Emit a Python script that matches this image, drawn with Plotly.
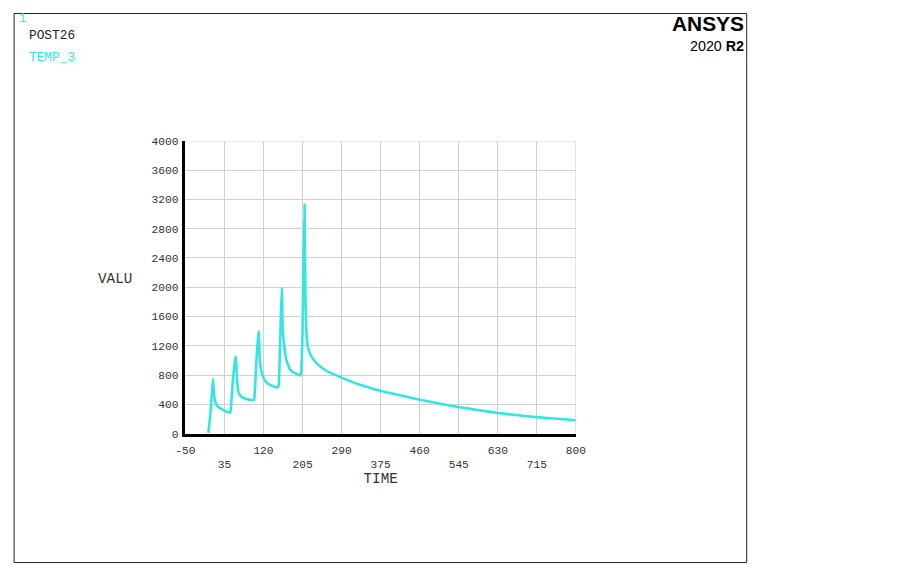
import plotly.graph_objects as go

# TEMP_3 vs TIME
time_s = [0, 3, 6, 8, 10, 12, 15, 19, 25, 32, 40, 46, 48, 50, 53, 56, 58, 60, 62, 66, 71, 77, 85, 93, 98, 100,
          103, 106, 108, 110, 112, 115, 120, 128, 136, 144, 150, 153, 156, 158, 160, 162, 166, 171, 178,
          186, 195, 200, 202, 205, 207, 209.5, 211, 214, 218, 225, 236, 254, 270, 290, 320, 350, 374, 420,
          461, 500, 544, 590, 631, 675, 715, 760, 800]
temp_3 = [10, 180, 400, 560, 750, 560, 440, 380, 350, 325, 300, 292, 290, 420, 700, 900, 1000, 1055, 760, 555,
          510, 487, 470, 460, 456, 470, 800, 1150, 1300, 1397, 1000, 870, 760, 692, 660, 640, 630, 660,
          1200, 1650, 1990, 1400, 1147, 980, 874, 835, 810, 795, 830, 1400, 2300, 3130, 2000, 1330, 1150,
          1050, 960, 870, 820, 765, 690, 630, 585, 520, 464, 415, 364, 320, 283, 252, 226, 203, 183]

x_ticks = [-50, 35, 120, 205, 290, 375, 460, 545, 630, 715, 800]
x_ticktext = ["-50", "<br>35", "120", "<br>205", "290", "<br>375", "460", "<br>545", "630", "<br>715", "800"]
y_ticks = [0, 400, 800, 1200, 1600, 2000, 2400, 2800, 3200, 3600, 4000]

W, H = 900, 577
# mapping of target-picture pixels to page positions (capture adds a small inset)
SX, OX = 0.979, 9.4
SY, OY = 0.980, 5.0


def fx(px):
    return (px - OX) / SX / W


def fy(py):
    return 1 - (py - OY) / SY / H


def fs(size):
    return round(size / SX, 1)


mono = "Liberation Mono, Courier New, monospace"
cyan = "#33E6E0"
grid = "#D0D0D0"
txt = "#333333"

fig = go.Figure()
fig.add_trace(go.Scatter(x=time_s, y=temp_3, mode="lines",
                         line=dict(color=cyan, width=2.6, shape="spline", smoothing=0.3),
                         showlegend=False, hoverinfo="skip"))

fig.update_layout(
    width=W, height=H,
    margin=dict(l=0, r=0, t=0, b=0),
    paper_bgcolor="white", plot_bgcolor="white",
    xaxis=dict(domain=[fx(185), fx(576)], range=[-50, 800],
               tickvals=x_ticks, ticktext=x_ticktext,
               showgrid=True, gridcolor=grid, gridwidth=1,
               showline=True, linecolor="black", linewidth=2.5,
               zeroline=False, ticks="outside", ticklen=4, tickcolor="rgba(0,0,0,0)",
               tickfont=dict(family=mono, size=fs(11), color=txt),
               title=dict(text="TIME", font=dict(family=mono, size=fs(14), color=txt), standoff=1),
               fixedrange=True),
    yaxis=dict(domain=[fy(434), fy(141)], range=[0, 4000],
               tickvals=y_ticks,
               showgrid=True, gridcolor=grid, gridwidth=1,
               showline=True, linecolor="black", linewidth=2.5,
               zeroline=False, ticks="outside", ticklen=2, tickcolor="rgba(0,0,0,0)",
               tickfont=dict(family=mono, size=fs(11), color=txt),
               fixedrange=True),
    shapes=[
        dict(type="rect", xref="paper", yref="paper",
             x0=fx(13.5), x1=fx(747), y0=fy(563), y1=fy(13.5),
             line=dict(color="#222222", width=1)),
        dict(type="line", xref="x", yref="paper", x0=800, x1=800,
             y0=fy(434), y1=fy(141), line=dict(color=grid, width=1)),
        dict(type="line", xref="paper", yref="y", x0=fx(185), x1=fx(576),
             y0=4000, y1=4000, line=dict(color=grid, width=1)),
    ],
    annotations=[
        dict(text="1", x=fx(16), y=fy(19), xref="paper", yref="paper",
             xanchor="left", yanchor="middle", showarrow=False,
             font=dict(family=mono, size=fs(12), color=cyan)),
        dict(text="POST26", x=fx(26.5), y=fy(36), xref="paper", yref="paper",
             xanchor="left", yanchor="middle", showarrow=False,
             font=dict(family=mono, size=fs(12.5), color="#222222")),
        dict(text="TEMP_3", x=fx(26.5), y=fy(58), xref="paper", yref="paper",
             xanchor="left", yanchor="middle", showarrow=False,
             font=dict(family=mono, size=fs(12.5), color=cyan)),
        dict(text="VALU", x=fx(96), y=fy(279), xref="paper", yref="paper",
             xanchor="left", yanchor="middle", showarrow=False,
             font=dict(family=mono, size=fs(14), color=txt)),
        dict(text="<b>ANSYS</b>", x=fx(746), y=fy(24), xref="paper", yref="paper",
             xanchor="right", yanchor="middle", showarrow=False,
             font=dict(family="Liberation Sans, Arial", size=fs(20.5), color="black")),
        dict(text="2020 <b>R2</b>", x=fx(746), y=fy(46), xref="paper", yref="paper",
             xanchor="right", yanchor="middle", showarrow=False,
             font=dict(family="Liberation Sans, Arial", size=fs(14), color="black")),
    ],
)

post = (
    "document.body.style.margin='0';"
    "document.body.style.overflow='hidden';"
)

fig.write_html("out.html", config={"displayModeBar": False}, post_script=post)
